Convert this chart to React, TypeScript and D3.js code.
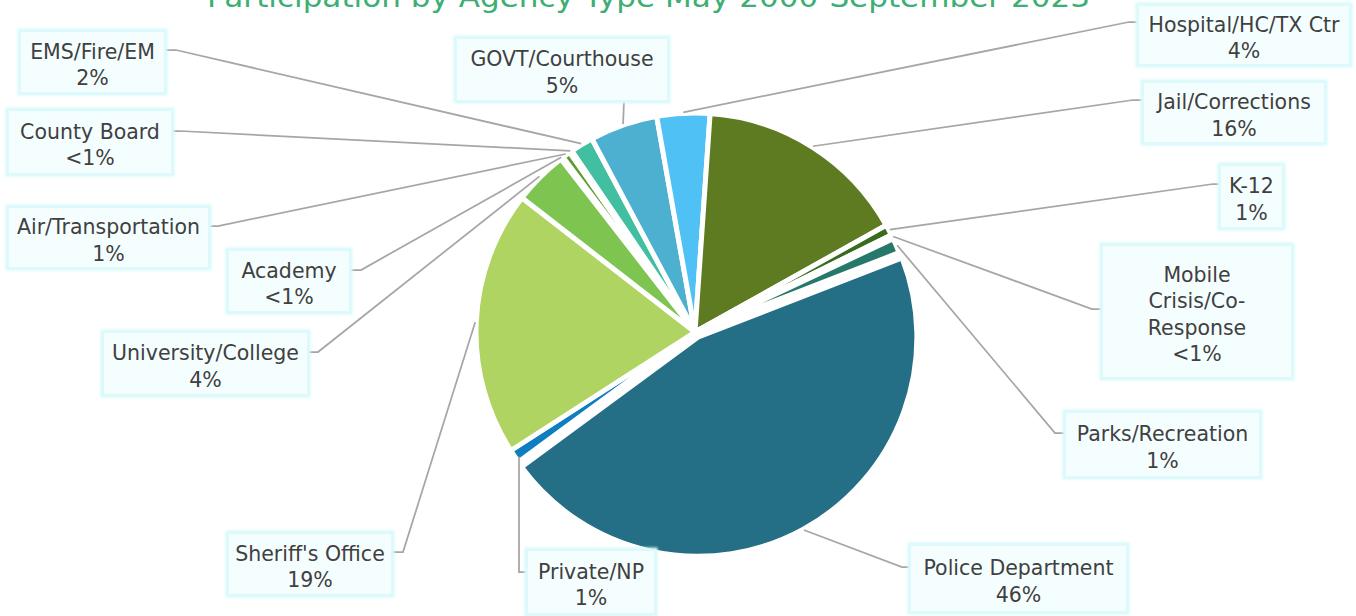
import React from "react";
import * as d3 from "d3";

const categories = [
  "Academy",
  "Air/Transportation",
  "County Board",
  "EMS/Fire/EM",
  "GOVT/Courthouse",
  "Hospital/HC/TX Ctr",
  "Jail/Corrections",
  "K-12",
  "Mobile Crisis/Co-Response",
  "Parks/Recreation",
  "Police Department",
  "Private/NP",
  "Sheriff's Office",
  "University/College",
];
const shares = [0.2, 0.6, 0.2, 1.7, 5.0, 3.9, 15.8, 0.8, 0.3, 1.1, 45.8, 1.0, 19.6, 4.0];
const pctLabels = ["<1%", "1%", "<1%", "2%", "5%", "4%", "16%", "1%", "<1%", "1%", "46%", "1%", "19%", "4%"];
const labelLines = [
  ["Academy"],
  ["Air/Transportation"],
  ["County Board"],
  ["EMS/Fire/EM"],
  ["GOVT/Courthouse"],
  ["Hospital/HC/TX Ctr"],
  ["Jail/Corrections"],
  ["K-12"],
  ["Mobile", "Crisis/Co-", "Response"],
  ["Parks/Recreation"],
  ["Police Department"],
  ["Private/NP"],
  ["Sheriff's Office"],
  ["University/College"],
];
const colors = [
  "#C9E3A6", "#5E9E2E", "#9CCB6A", "#41BFA0", "#4DB0D1", "#50C1F5", "#5E7B22",
  "#3A6B1E", "#2F6E4A", "#26786A", "#256F86", "#0E7EC0", "#B0D462", "#7EC451",
];
const title = "Participation by Agency Type May 2000-September 2023";

// label box layout: x, y, w, h, side, attachX, attachY, stub
const layout: [number, number, number, number, string, number, number, number][] = [
  [228, 250, 122, 62, "right", 350, 270, 11],
  [8, 207, 201, 61, "right", 209, 226, 9],
  [8, 110, 164, 64, "right", 172, 131, 8],
  [20, 31, 145, 62, "right", 165, 50, 11],
  [456, 38, 212, 63, "bottom", 624, 101, 0],
  [1138, 5, 212, 60, "left", 1138, 22, 9],
  [1143, 82, 182, 61, "left", 1143, 100, 10],
  [1220, 165, 63, 63, "left", 1220, 184, 7],
  [1102, 245, 190, 133, "left", 1102, 309, 10],
  [1065, 412, 195, 65, "left", 1065, 433, 10],
  [910, 545, 217, 67, "left", 910, 567, 8],
  [527, 550, 128, 64, "left", 527, 572, 8],
  [228, 533, 164, 62, "right", 392, 552, 11],
  [103, 332, 205, 63, "right", 308, 352, 10],
];

export default function App() {
  const W = 1356;
  const H = 616;
  const cx = 695;
  const cy = 332;
  const R = 219;
  const start = (-37.8 * Math.PI) / 180;
  const pie = d3
    .pie<number>()
    .sort(null)
    .value((d) => d)
    .startAngle(start)
    .endAngle(start + 2 * Math.PI);
  const arcs = pie(shares);
  const arc = d3.arc<d3.PieArcDatum<number>>().innerRadius(0).outerRadius(R);
  const explodeIdx = 10;
  const explode = 6;
  const fs = 20.5;
  const lh = 26.5;

  return (
    <svg
      width={W}
      height={H}
      style={{ position: "absolute", left: 0, top: 0, background: "#fff" }}
      fontFamily="'DejaVu Sans', sans-serif"
    >
      <defs>
        <filter id="glow" x="-10%" y="-10%" width="120%" height="120%">
          <feGaussianBlur stdDeviation="1.2" />
        </filter>
      </defs>
      <text
        x={207}
        y={7}
        fontSize={28}
        fill="#3DAE74"
        textLength={883}
        lengthAdjust="spacingAndGlyphs"
      >
        {title}
      </text>
      <g transform={`translate(${cx},${cy})`}>
        {arcs.map((a, i) => {
          const mid = (a.startAngle + a.endAngle) / 2;
          const off = i === explodeIdx ? explode : 0;
          return (
            <path
              key={categories[i]}
              d={arc(a) || ""}
              transform={`translate(${Math.sin(mid) * off},${-Math.cos(mid) * off})`}
              fill={colors[i]}
              stroke="#fff"
              strokeWidth={5}
              strokeLinejoin="round"
            />
          );
        })}
      </g>
      {arcs.map((a, i) => {
        const mid = (a.startAngle + a.endAngle) / 2;
        const off = i === explodeIdx ? explode : 0;
        const rr = R - 2 + 3 + off;
        const px = cx + Math.sin(mid) * rr;
        const py = cy - Math.cos(mid) * rr;
        const [, , , , side, ax, ay, stub] = layout[i];
        let pts: [number, number][];
        if (side === "right") pts = [[ax, ay], [ax + stub, ay], [px, py]];
        else if (side === "left") pts = [[ax, ay], [ax - stub, ay], [px, py]];
        else pts = [[ax, ay], [px, py]];
        if (i === 11) pts = [[ax, ay], [ax - stub, ay], [ax - stub, py]];
        return (
          <path
            key={"l" + i}
            d={d3.line()(pts) || ""}
            fill="none"
            stroke="#A6A6A6"
            strokeWidth={1.75}
          />
        );
      })}
      {categories.map((c, i) => {
        const [x, y, w, h] = layout[i];
        const lines = [...labelLines[i], pctLabels[i]];
        const bcy = y + h / 2;
        const first = bcy - ((lines.length - 1) / 2) * lh + 10;
        return (
          <g key={"b" + c}>
            <rect x={x} y={y} width={w} height={h} fill="none" stroke="#D6FAFC" strokeWidth={5} filter="url(#glow)" />
            <rect x={x} y={y} width={w} height={h} fill="#F5FEFE" stroke="#DDF9FB" strokeWidth={2} />
            <text textAnchor="middle" fontSize={fs} fill="#404040">
              {lines.map((t, j) => (
                <tspan key={j} x={x + w / 2} y={first + j * lh}>
                  {t}
                </tspan>
              ))}
            </text>
          </g>
        );
      })}
    </svg>
  );
}
